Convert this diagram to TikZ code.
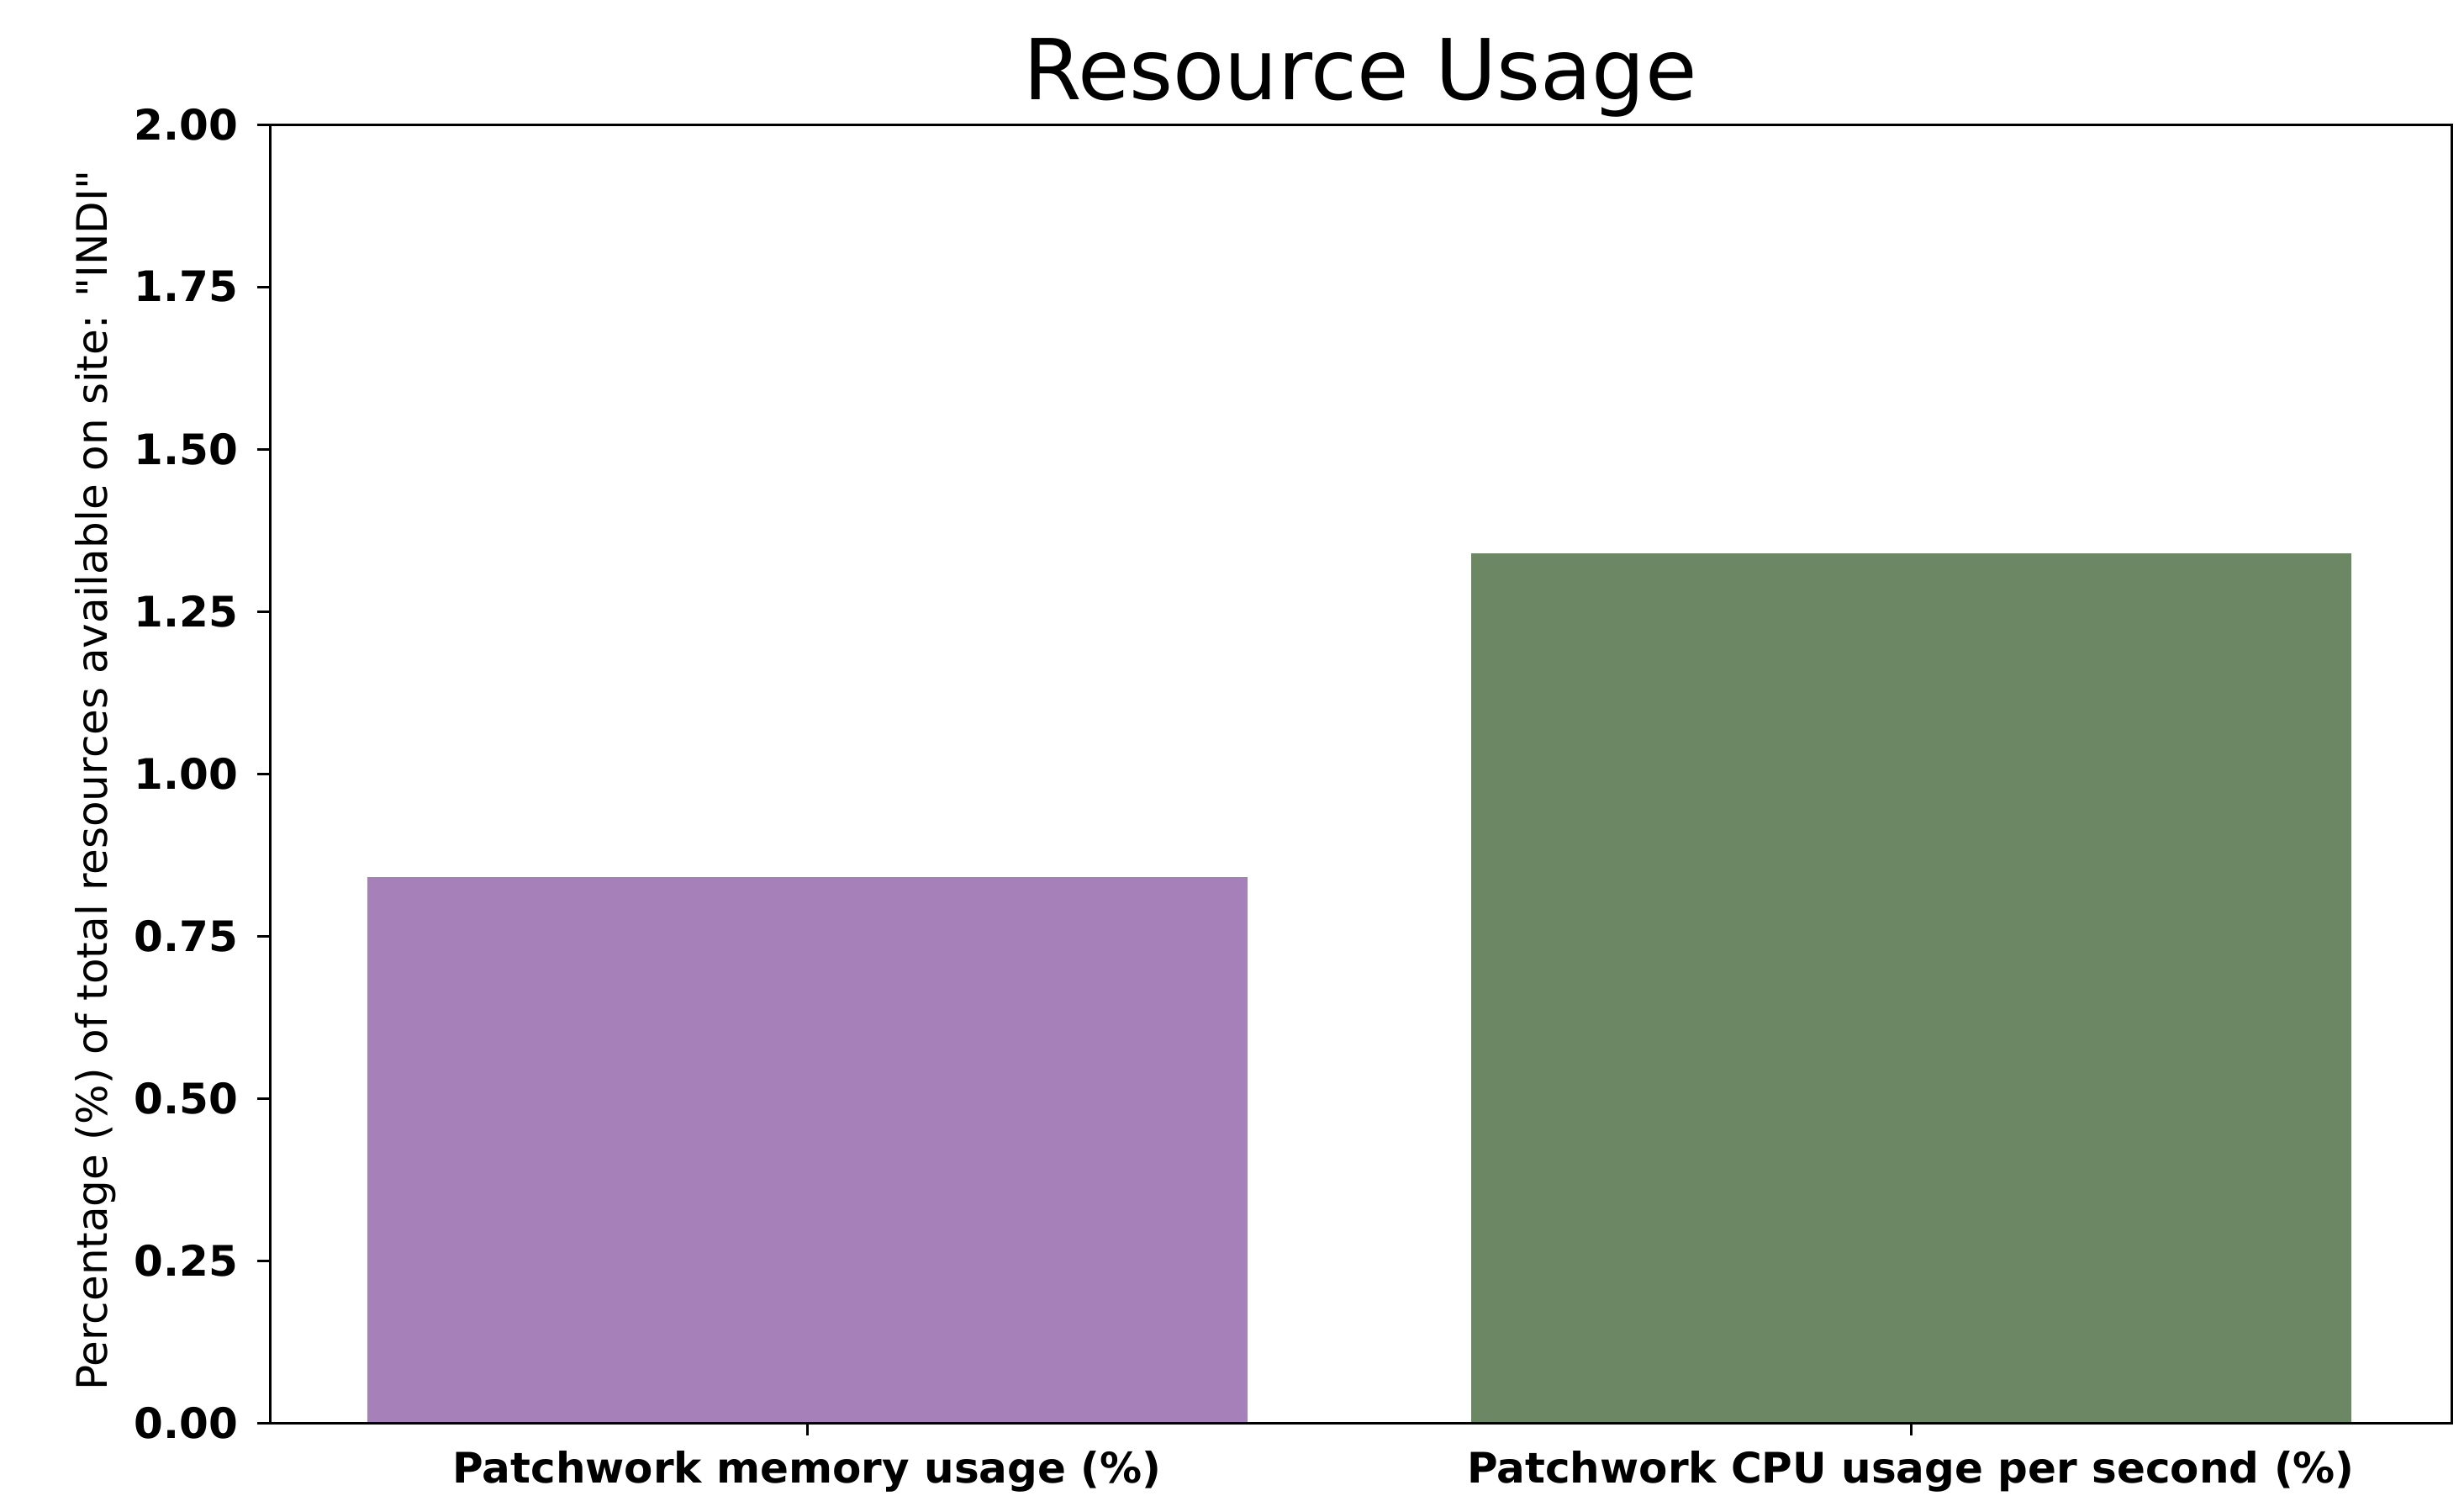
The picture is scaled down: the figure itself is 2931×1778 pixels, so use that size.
\documentclass[tikz,border=0pt]{standalone}
\usepackage{fontspec}
\setmainfont{DejaVu Sans}[Ligatures=TeXOff]
\definecolor{barpurple}{RGB}{166,128,185}
\definecolor{bargreen}{RGB}{108,135,100}
\begin{document}
\begin{tikzpicture}[x=0.1pt,y=-0.1pt,
  frame/.style={draw=black,line width=0.3pt},
  tickline/.style={draw=black,line width=0.3pt},
  yticklab/.style={anchor=east,inner sep=0pt,font=\fontsize{5}{6}\selectfont\bfseries},
  xticklab/.style={anchor=base,inner sep=0pt,font=\fontsize{5}{6}\selectfont\bfseries},
  titlelab/.style={anchor=base,inner sep=0pt,font=\fontsize{10}{12}\selectfont},
  ylab/.style={anchor=south,rotate=90,inner sep=0pt,font=\fontsize{5}{6}\selectfont}]
\useasboundingbox (0,0) rectangle (2931,1778);
\fill[white] (0,0) rectangle (2931,1778);
% bars
\fill[barpurple] (437,1043) rectangle (1484,1692);
\fill[bargreen] (1750,658) rectangle (2797,1692);
% frame
\draw[frame] (321,148) rectangle (2916,1692);
% y ticks
\foreach \v/\lab in {0/0.00,1/0.25,2/0.50,3/0.75,4/1.00,5/1.25,6/1.50,7/1.75,8/2.00}{
  \draw[tickline] (306,1692-193*\v) -- (321,1692-193*\v);
  \node[yticklab] (yt\v) at (285,1692-193*\v) {\lab};
}
% x ticks
\draw[tickline] (960,1692) -- (960,1707);
\draw[tickline] (2273,1692) -- (2273,1707);
\node[xticklab] (xt1) at (960,1763) {Patchwork memory usage (\%)};
\node[xticklab] (xt2) at (2273,1763) {Patchwork CPU usage per second (\%)};
% labels
\node[titlelab] (title) at (1618,118) {Resource Usage};
\node[ylab] (ylabel) at (140,928) {Percentage (\%) of total resources available on site: "INDI"};
\end{tikzpicture}
\end{document}
